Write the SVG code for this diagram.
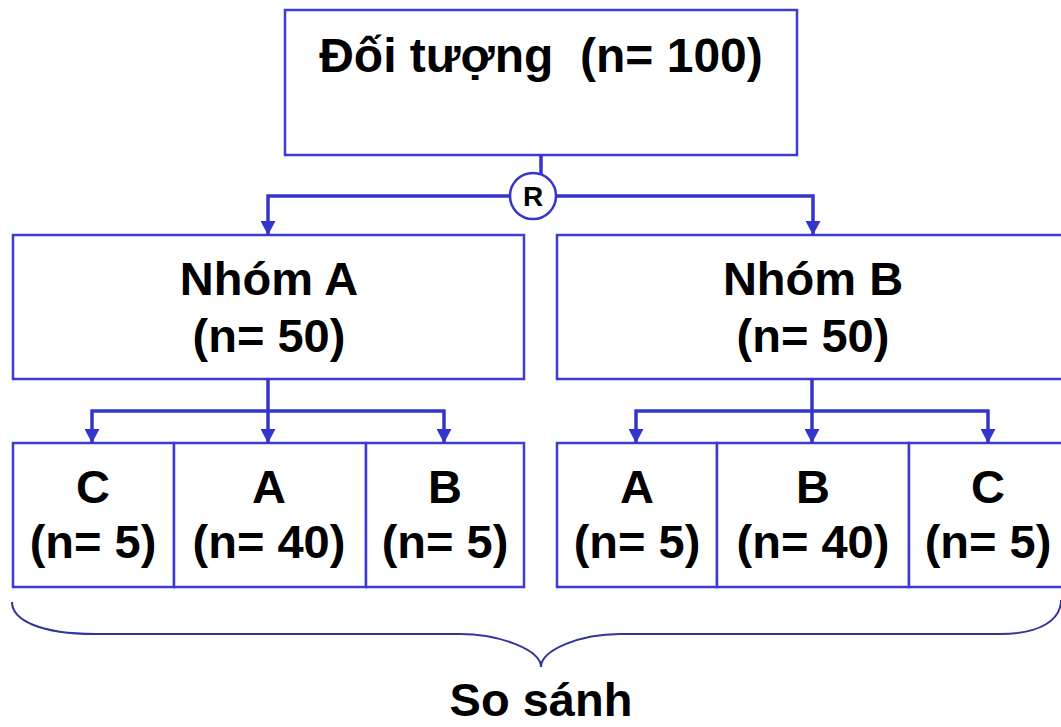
<svg xmlns="http://www.w3.org/2000/svg" width="1061" height="727" viewBox="0 0 1061 727">
<style>
.box{fill:#fff;stroke:#3c3cd2;stroke-width:2.5}
.con{fill:none;stroke:#3535cc;stroke-width:3.5}
.t{font-family:"Liberation Sans",Arial,sans-serif;font-size:47px;font-weight:bold;fill:#000;text-anchor:middle}
</style>
<defs>
<marker id="ah" markerUnits="userSpaceOnUse" viewBox="0 0 14 15" markerWidth="14" markerHeight="15" refX="14" refY="7.5" orient="auto">
<path d="M0,0 L14,7.5 L0,15 z" fill="#3535cc"/>
</marker>
</defs>
<rect width="1061" height="727" fill="#fff"/>
<g id="doi-tuong">
<rect class="box" x="285" y="10" width="512" height="145"/>
<text class="t" x="541" y="72" style="font-size:48px" xml:space="preserve">Đối tượng  (n= 100)</text>
</g>
<g id="nhom-a">
<rect class="box" x="13" y="235" width="511" height="144"/>
<text class="t" x="269" y="295">Nhóm A</text>
<text class="t" x="269" y="352">(n= 50)</text>
</g>
<g id="nhom-b">
<rect class="box" x="557" y="235" width="511" height="144"/>
<text class="t" x="813" y="295">Nhóm B</text>
<text class="t" x="813" y="352">(n= 50)</text>
</g>
<g id="a-c">
<rect class="box" x="13" y="443" width="161" height="144"/>
<text class="t" x="93" y="503">C</text>
<text class="t" x="93" y="558">(n= 5)</text>
</g>
<g id="a-a">
<rect class="box" x="174" y="443" width="192" height="144"/>
<text class="t" x="269" y="503">A</text>
<text class="t" x="269" y="558">(n= 40)</text>
</g>
<g id="a-b">
<rect class="box" x="366" y="443" width="158" height="144"/>
<text class="t" x="445" y="503">B</text>
<text class="t" x="445" y="558">(n= 5)</text>
</g>
<g id="b-a">
<rect class="box" x="557" y="443" width="160" height="144"/>
<text class="t" x="637" y="503">A</text>
<text class="t" x="637" y="558">(n= 5)</text>
</g>
<g id="b-b">
<rect class="box" x="717" y="443" width="192" height="144"/>
<text class="t" x="813" y="503">B</text>
<text class="t" x="813" y="558">(n= 40)</text>
</g>
<g id="b-c">
<rect class="box" x="909" y="443" width="159" height="144"/>
<text class="t" x="988" y="503">C</text>
<text class="t" x="988" y="558">(n= 5)</text>
</g>
<g id="connectors">
<path class="con" d="M541,155 V174"/>
<path class="con" d="M510,196 H268 V235" marker-end="url(#ah)"/>
<path class="con" d="M556,196 H813 V235" marker-end="url(#ah)"/>
<path class="con" d="M268,379 V443" marker-end="url(#ah)"/>
<path class="con" d="M268,411 H92 V443" marker-end="url(#ah)"/>
<path class="con" d="M268,411 H444 V443" marker-end="url(#ah)"/>
<path class="con" d="M812,379 V443" marker-end="url(#ah)"/>
<path class="con" d="M812,411 H636 V443" marker-end="url(#ah)"/>
<path class="con" d="M812,411 H988 V443" marker-end="url(#ah)"/>
</g>
<g id="r-node">
<circle cx="533" cy="196" r="23" fill="#fff" stroke="#3535cc" stroke-width="2.5"/>
<text x="533" y="206" style="font-family:'Liberation Sans',Arial,sans-serif;font-size:28px;font-weight:bold;text-anchor:middle">R</text>
</g>
<g id="so-sanh">
<path d="M12,602 C12,620 40,634 95,634 H460 C500,634 541,650 541,667 C541,650 580,634 620,634 H1000 C1040,634 1061,620 1061,600" fill="none" stroke="#333399" stroke-width="2"/>
<text class="t" x="541" y="716">So sánh</text>
</g>
</svg>
